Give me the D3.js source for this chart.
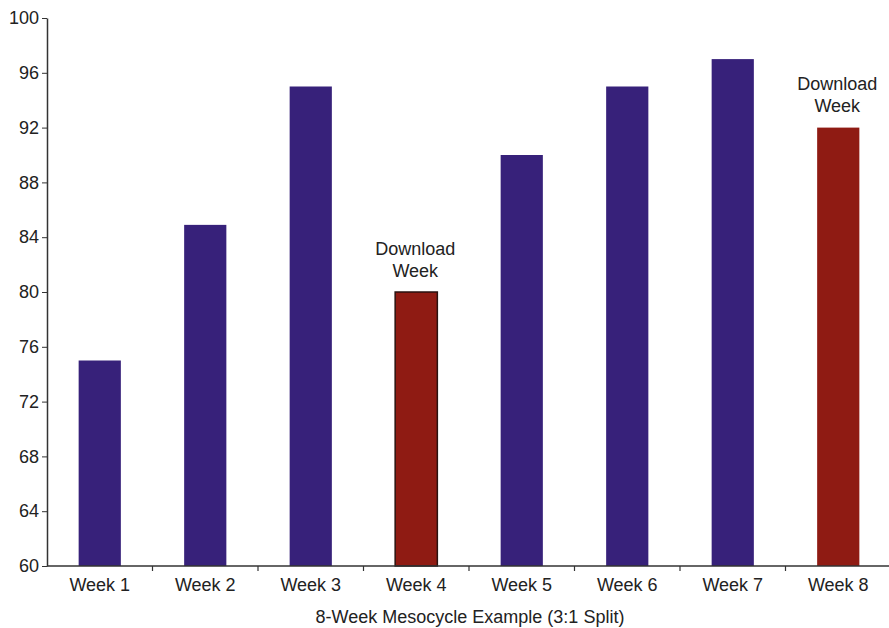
<!DOCTYPE html>
<html>
<head>
<meta charset="utf-8">
<script src="https://cdn.jsdelivr.net/npm/d3@7"></script>
<style>
  html, body { margin: 0; padding: 0; background: #fff; }
  svg { display: block; font-family: "Liberation Sans", Arial, Helvetica, sans-serif; }
</style>
</head>
<body>
<svg id="chart" width="889" height="628"></svg>
<script>
// Training load per week of an 8-week mesocycle (3:1 split)
const weeks = ["Week 1", "Week 2", "Week 3", "Week 4", "Week 5", "Week 6", "Week 7", "Week 8"];
const load = [75, 84.9, 95, 80, 90, 95, 97, 92];
const downloadWeeks = ["Week 4", "Week 8"];
const yTicks = [60, 64, 68, 72, 76, 80, 84, 88, 92, 96, 100];
const annotationLines = ["Download", "Week"];
const xTitle = "8-Week Mesocycle Example (3:1 Split)";

const svg = d3.select("#chart");
const margin = { left: 47, right: -2, top: 18, bottom: 62 };
const W = 889, H = 628;

const x = d3.scaleBand()
  .domain(weeks)
  .range([margin.left, W - margin.right])
  .paddingInner(0.6)
  .paddingOuter(0.3);

const y = d3.scaleLinear()
  .domain([60, 100])
  .range([H - margin.bottom, margin.top]);

const ink = "#222";
const purple = "#37217a";
const red = "#8f1b13";
const fontSize = "18px";

// Bars
svg.append("g").selectAll("rect")
  .data(weeks.map((w, i) => ({ week: w, value: load[i] })))
  .join("rect")
  .attr("x", d => x(d.week))
  .attr("y", d => y(d.value))
  .attr("width", x.bandwidth())
  .attr("height", d => y(60) - y(d.value))
  .attr("fill", d => downloadWeeks.includes(d.week) ? red : purple)
  .attr("stroke", d => d.week === "Week 4" ? "#2a1210" : "none")
  .attr("stroke-width", 1.5);

// Y axis
const yAxis = svg.append("g")
  .attr("transform", `translate(${margin.left},0)`)
  .call(d3.axisLeft(y).tickValues(yTicks).tickSize(5).tickPadding(3).tickSizeOuter(0));
yAxis.select(".domain").attr("stroke", "#333").attr("stroke-width", 1.5);
yAxis.selectAll(".tick line").attr("stroke", "#333");
yAxis.selectAll(".tick text")
  .attr("fill", ink)
  .style("font-size", fontSize);

// X axis: boundary ticks between categories, labels centred in each band
const bandLeft = w => x(w) - (x.step() - x.bandwidth()) / 2;
const baseY = y(60);
const xg = svg.append("g");
xg.append("line")
  .attr("x1", margin.left).attr("x2", W)
  .attr("y1", baseY).attr("y2", baseY)
  .attr("stroke", "#333").attr("stroke-width", 1.5);
xg.selectAll("line.sep")
  .data(weeks.slice(1))
  .join("line")
  .attr("class", "sep")
  .attr("x1", d => bandLeft(d)).attr("x2", d => bandLeft(d))
  .attr("y1", baseY).attr("y2", baseY + 5)
  .attr("stroke", "#333").attr("stroke-width", 1.2);
xg.selectAll("text")
  .data(weeks)
  .join("text")
  .attr("x", d => x(d) + x.bandwidth() / 2)
  .attr("y", baseY + 25)
  .attr("text-anchor", "middle")
  .attr("fill", ink)
  .style("font-size", fontSize)
  .text(d => d);

// X axis title
svg.append("text")
  .attr("x", (margin.left + W) / 2 + 2)
  .attr("y", H - 5)
  .attr("text-anchor", "middle")
  .attr("fill", ink)
  .style("font-size", fontSize)
  .text(xTitle);

// "Download Week" annotations above the lighter weeks
downloadWeeks.forEach(w => {
  const i = weeks.indexOf(w);
  const cx = x(w) + x.bandwidth() / 2 - 1;
  const t = svg.append("text")
    .attr("x", cx)
    .attr("y", y(load[i]) - 37.5)
    .attr("text-anchor", "middle")
    .attr("fill", ink)
    .style("font-size", fontSize);
  annotationLines.forEach((line, k) => {
    t.append("tspan")
      .attr("x", cx)
      .attr("dy", k === 0 ? 0 : 22)
      .text(line);
  });
});
</script>
</body>
</html>
